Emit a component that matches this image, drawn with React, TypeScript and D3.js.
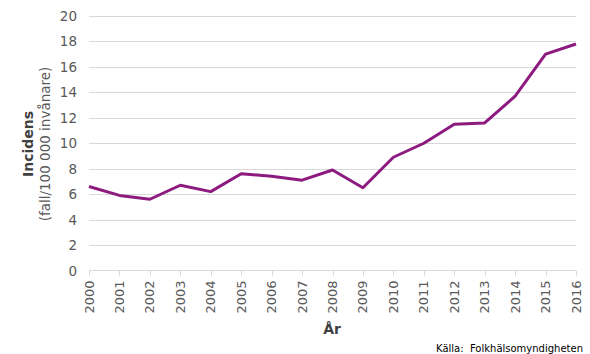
import React, { useEffect, useRef } from "react";
import * as d3 from "d3";

const years = ["2000", "2001", "2002", "2003", "2004", "2005", "2006", "2007", "2008", "2009", "2010", "2011", "2012", "2013", "2014", "2015", "2016"];
const incidence = [6.6, 5.9, 5.6, 6.7, 6.2, 7.6, 7.4, 7.1, 7.9, 6.5, 8.9, 10.0, 11.5, 11.6, 13.7, 17.0, 17.8];
const yTicks = [0, 2, 4, 6, 8, 10, 12, 14, 16, 18, 20];

const W = 590;
const H = 354;
const FONT = "'DejaVu Sans', Verdana, sans-serif";

const App: React.FC = () => {
  const svgRef = useRef<SVGSVGElement>(null);

  useEffect(() => {
    document.body.style.margin = "0";
    if (!svgRef.current) return;
    const svg = d3.select(svgRef.current);
    svg.selectAll("*").remove();

    const left = 89, right = 576, top = 16, bottom = 270.5;

    const x = d3.scalePoint<string>().domain(years).range([left, right]);
    const y = d3.scaleLinear().domain([0, 20]).range([bottom, top]);

    // gridlines
    svg.append("g")
      .selectAll("line")
      .data(yTicks.filter(t => t > 0))
      .enter()
      .append("line")
      .attr("x1", left)
      .attr("x2", right)
      .attr("y1", d => Math.round(y(d)) + 0.5)
      .attr("y2", d => Math.round(y(d)) + 0.5)
      .attr("stroke", "#d9d9d9")
      .attr("stroke-width", 1);

    // y tick labels
    svg.append("g")
      .selectAll("text")
      .data(yTicks)
      .enter()
      .append("text")
      .attr("x", 77)
      .attr("y", d => y(d) + 5)
      .attr("text-anchor", "end")
      .attr("font-family", FONT)
      .attr("font-size", 13.5)
      .attr("fill", "#595959")
      .text(d => d);

    // x axis line + ticks
    const xa = svg.append("g");
    xa.append("line")
      .attr("x1", left)
      .attr("x2", right)
      .attr("y1", bottom)
      .attr("y2", bottom)
      .attr("stroke", "#d9d9d9");
    xa.selectAll(".tick")
      .data(years)
      .enter()
      .append("line")
      .attr("class", "tick")
      .attr("x1", d => Math.round(x(d)!) + 0.5)
      .attr("x2", d => Math.round(x(d)!) + 0.5)
      .attr("y1", bottom)
      .attr("y2", bottom + 5)
      .attr("stroke", "#d9d9d9");

    xa.selectAll(".lbl")
      .data(years)
      .enter()
      .append("text")
      .attr("class", "lbl")
      .attr("transform", d => `translate(${x(d)! + 4.5},${bottom + 10}) rotate(-90)`)
      .attr("text-anchor", "end")
      .attr("font-family", FONT)
      .attr("font-size", 13)
      .attr("fill", "#595959")
      .text(d => d);

    // line
    const line = d3.line<number>()
      .x((_, i) => x(years[i])!)
      .y(d => y(d));
    svg.append("path")
      .datum(incidence)
      .attr("d", line)
      .attr("fill", "none")
      .attr("stroke", "#8c1a7f")
      .attr("stroke-width", 3)
      .attr("stroke-linejoin", "round");

    // axis titles
    svg.append("text")
      .attr("transform", `translate(33,144) rotate(-90)`)
      .attr("text-anchor", "middle")
      .attr("font-family", FONT)
      .attr("font-size", 14)
      .attr("font-weight", "bold")
      .attr("fill", "#404040")
      .text("Incidens");
    svg.append("text")
      .attr("transform", `translate(50,144) rotate(-90)`)
      .attr("text-anchor", "middle")
      .attr("font-family", FONT)
      .attr("font-size", 13.5)
      .attr("fill", "#595959")
      .text("(fall/100 000 invånare)");

    svg.append("text")
      .attr("x", 332)
      .attr("y", 334)
      .attr("text-anchor", "middle")
      .attr("font-family", FONT)
      .attr("font-size", 14)
      .attr("font-weight", "bold")
      .attr("fill", "#404040")
      .text("År");

    svg.append("text")
      .attr("x", 583)
      .attr("y", 352)
      .attr("text-anchor", "end")
      .attr("font-family", FONT)
      .attr("font-size", 10)
      .attr("fill", "#000")
      .style("white-space", "pre")
      .text("Källa:  Folkhälsomyndigheten");
  }, []);

  return <svg ref={svgRef} width={W} height={H} style={{ display: "block", background: "#fff" }} />;
};

export default App;
